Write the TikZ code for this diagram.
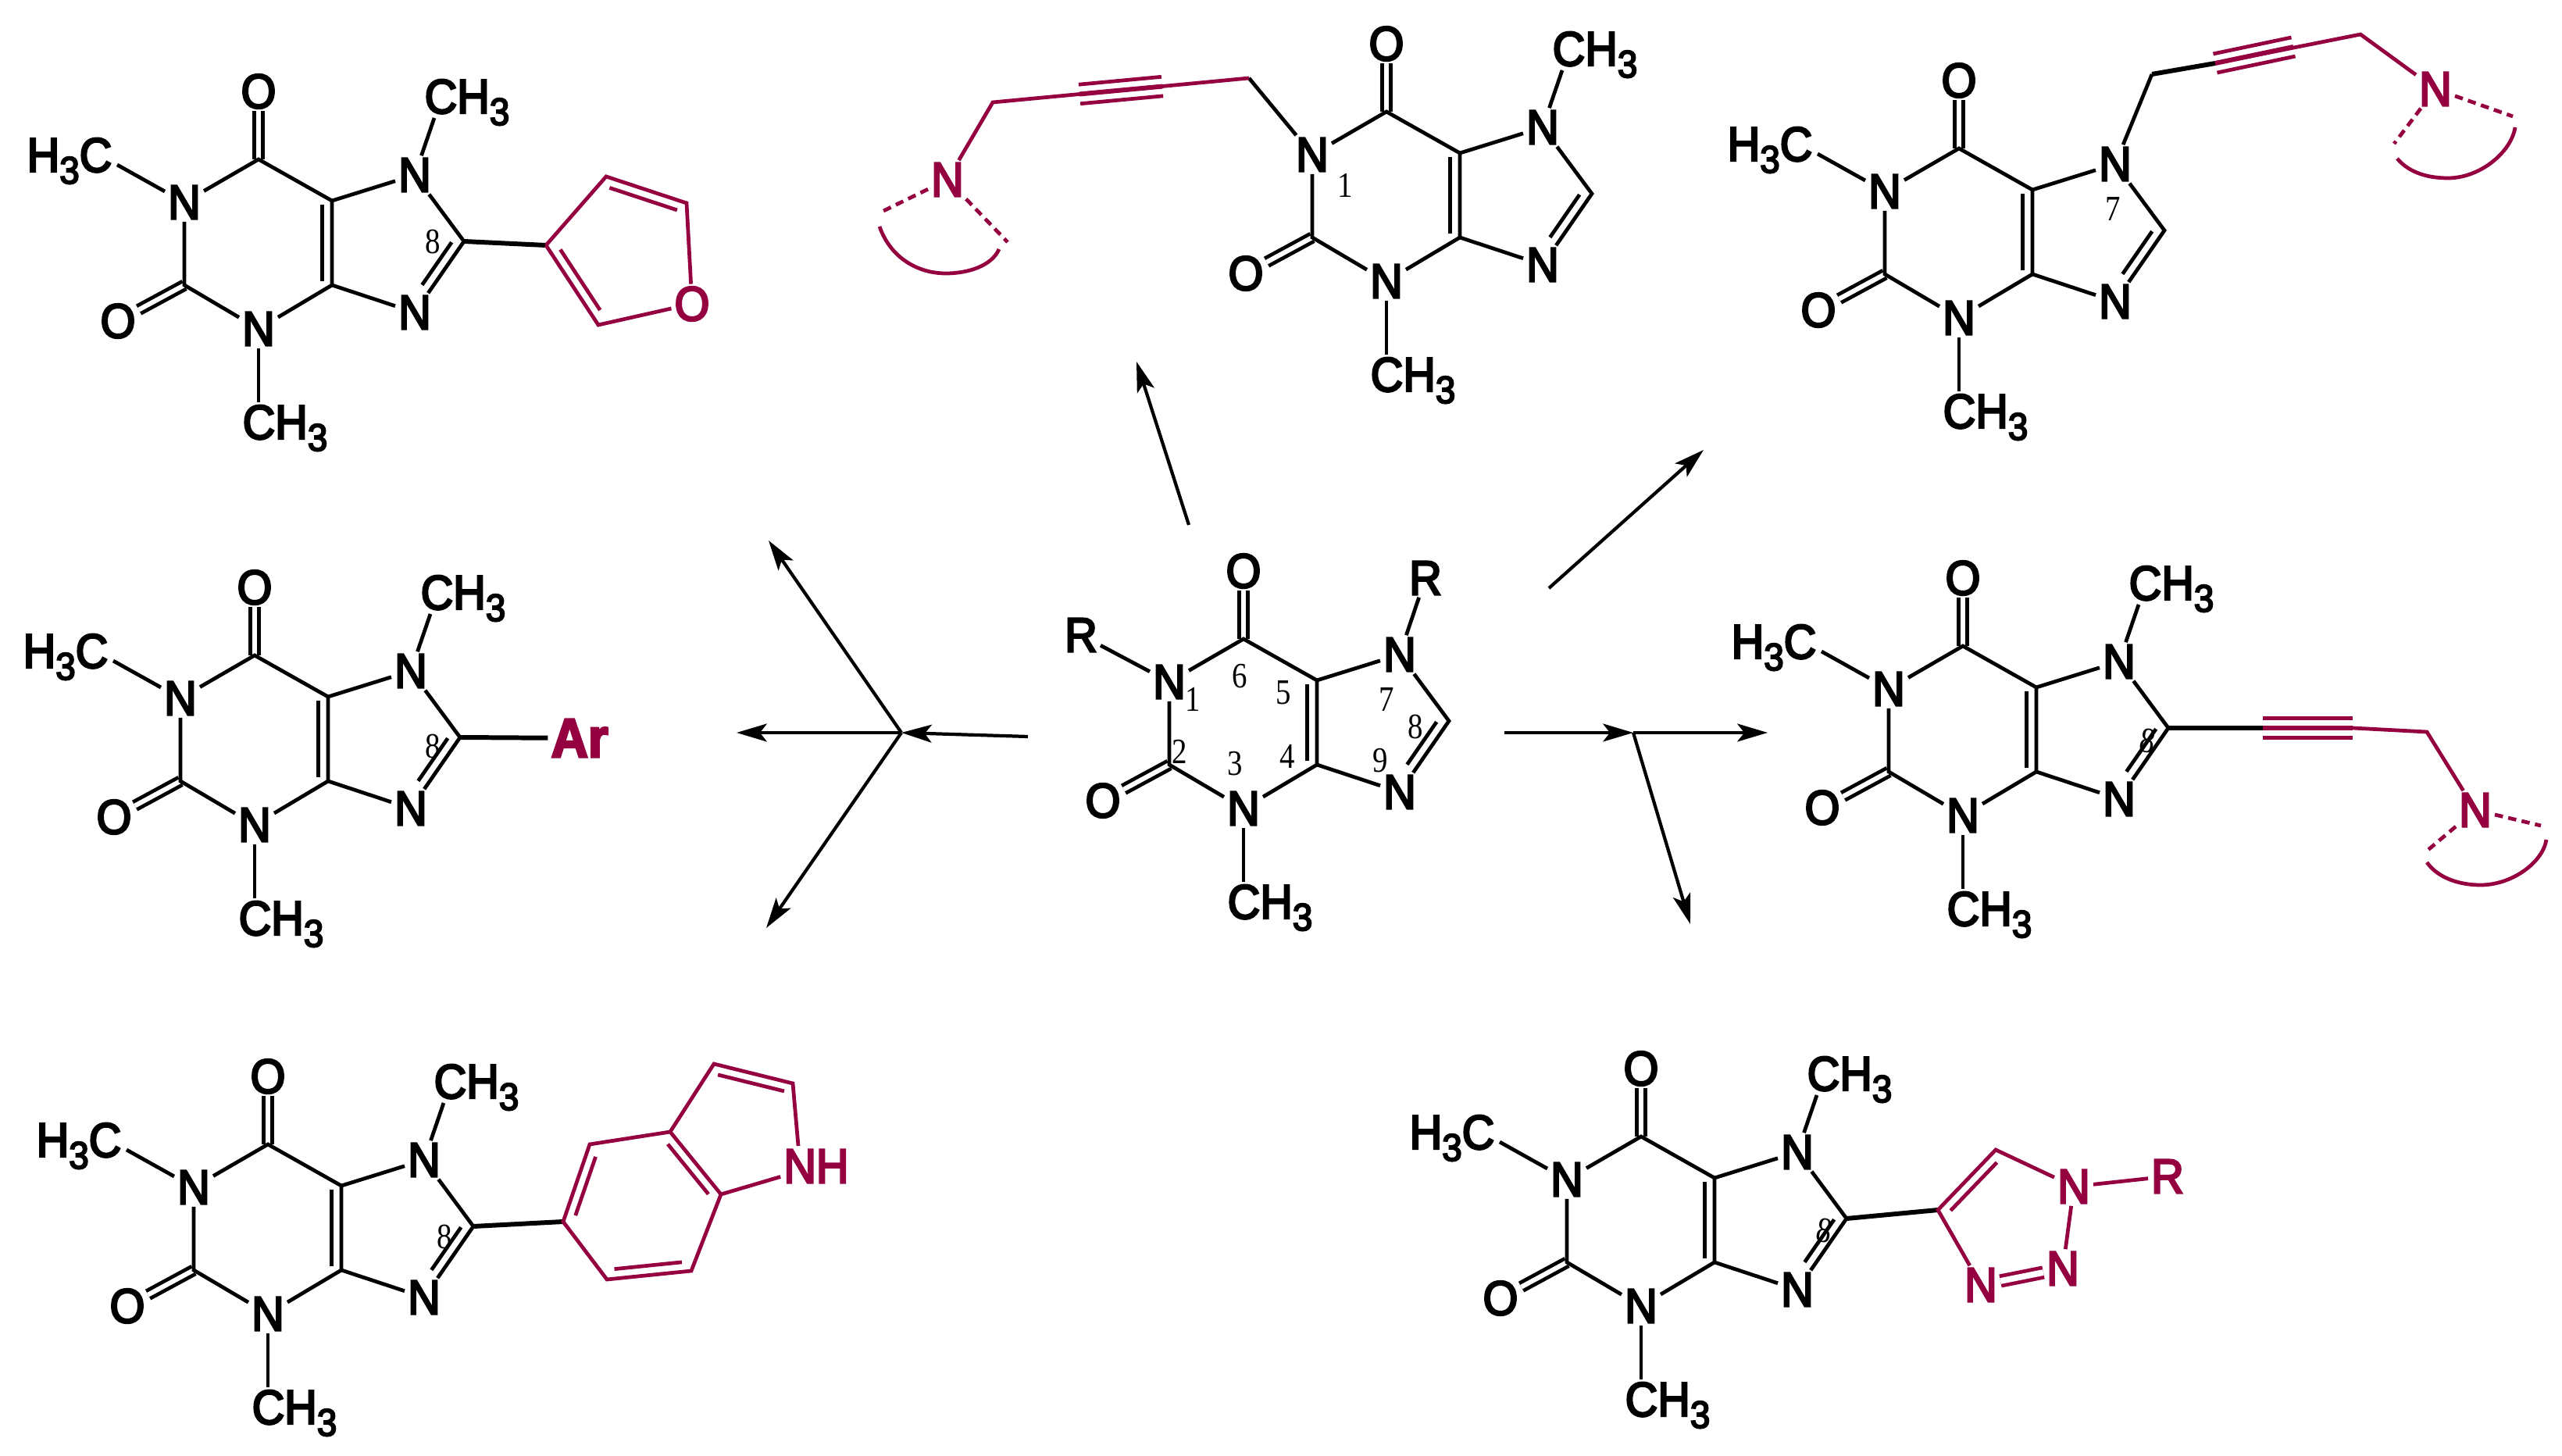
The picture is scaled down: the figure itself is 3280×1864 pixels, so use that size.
\documentclass[tikz,border=0pt]{standalone}
\usepackage{fontspec}
\setmainfont{Liberation Sans}[FakeStretch=0.93,FakeBold=4]
\newfontfamily\numfont{Liberation Serif}[FakeStretch=0.85]
\usetikzlibrary{arrows.meta,calc}
\definecolor{ringred}{HTML}{940040}
\tikzset{
    atom/.style={inner xsep=1.2pt,inner ysep=1pt,outer sep=0pt,font=\fontsize{17.6}{18}\selectfont},
    ratom/.style={atom,text=ringred},
    grp/.style={inner sep=0pt,anchor=base west,font=\fontsize{17.6}{18}\selectfont},
    num/.style={inner sep=0pt,font=\numfont\fontsize{13}{13}\selectfont},
    bond/.style={line width=1.35pt},
    thickbond/.style={line width=1.7pt},
    rbond/.style={bond,color=ringred},
    rdash/.style={rbond,dash pattern=on 3pt off 2pt},
    carbonyl/.style={bond,double,double distance=1.7pt},
    arrowline/.style={line width=1.2pt,-{Stealth[length=11pt,width=6.5pt,inset=2.5pt]}},
}
\newcommand{\subthree}{\raisebox{-4.3pt}{\fontsize{14}{14}\selectfont 3}}
\newcommand{\dblbond}[6][black]{\draw[bond,color=#1] ($(#2)!#4!(#3)!3.5pt!#6:(#3)$) -- ($(#3)!#5!(#2)!3.5pt!-#6:(#2)$);}
\newcommand{\xcore}[3]{
    \begin{scope}[shift={(#2,#3)}]
        \coordinate (#1c6) at (0,0);
        \coordinate (#1c5) at (94,53);
        \coordinate (#1c4) at (94,161);
        \coordinate (#1c2) at (-95,161);
        \coordinate (#1c8) at (263,105);
        \coordinate (#1m3) at (0,311);
        \node[atom] (#1n1) at (-95,55) {N};
        \node[atom] (#1n3) at (0,217) {N};
        \node[atom] (#1n7) at (200,20) {N};
        \node[atom] (#1n9) at (200,196) {N};
        \node[atom] (#1o6) at (0,-87) {O};
        \node[atom] (#1o2) at (-180,207) {O};
    \end{scope}
    \draw[carbonyl] (#1c6) -- (#1o6);
    \draw[carbonyl] (#1c2) -- (#1o2);
    \draw[bond] (#1n1) -- (#1c6) -- (#1c5) -- (#1c4) -- (#1n3) -- (#1c2) -- (#1n1);
    \draw[bond] (#1c5) -- (#1n7) -- (#1c8) -- (#1n9) -- (#1c4);
    \dblbond{#1c4}{#1c5}{.05}{.05}{90}
    \dblbond{#1n9}{#1c8}{.31}{.09}{90}
}
\newcommand{\xmethyls}[3]{
    \begin{scope}[shift={(#2,#3)}]
        \coordinate (#1m3) at (0,311);
        \node[grp] (#1cb) at (-21,358) {CH\subthree};
    \end{scope}
    \draw[bond] (#1n3) -- (#1m3);
}
\newcommand{\xmone}[3]{
    \begin{scope}[shift={(#2,#3)}]
        \coordinate (#1m1) at (-181,7);
        \node[grp] (#1cl) at (-297,16) {H\subthree C};
    \end{scope}
    \draw[bond] (#1n1) -- (#1m1);
}
\newcommand{\xmseven}[3]{
    \begin{scope}[shift={(#2,#3)}]
        \coordinate (#1m7) at (225,-53);
        \node[grp] (#1ct) at (212,-59) {CH\subthree};
    \end{scope}
    \draw[bond] (#1n7) -- (#1m7);
}
\begin{document}
\begin{tikzpicture}[x=0.01cm,y=-0.01cm]
    \useasboundingbox (0,0) rectangle (3280,1864);

    % centre
    \xcore{ce}{1592}{818}
    \xmethyls{ce}{1592}{818}
    \node[atom] (ceRa) at (1384,813) {R};
    \node[atom] (ceRb) at (1825,740) {R};
    \draw[bond] (cen1) -- (ceRa);
    \draw[bond] (cen7) -- (ceRb);
    \node[num] (ce1) at (1527,895) {1};
    \node[num] (ce2) at (1510,962) {2};
    \node[num] (ce3) at (1581,978) {3};
    \node[num] (ce4) at (1648,968) {4};
    \node[num] (ce5) at (1643,887) {5};
    \node[num] (ce6) at (1587,866) {6};
    \node[num] (ce7) at (1775,896) {7};
    \node[num] (ce8) at (1812,931) {8};
    \node[num] (ce9) at (1767,974) {9};

    % furan
    \xcore{fu}{331}{204}
    \xmethyls{fu}{331}{204}
    \xmone{fu}{331}{204}
    \xmseven{fu}{331}{204}
    \node[num] (fu8) at (554,310) {8};
    \node[ratom] (fuO) at (886,389) {O};
    \coordinate (fua) at (699,314);
    \coordinate (fub) at (776,226);
    \coordinate (fuc) at (879,260);
    \coordinate (fud) at (766,416);
    \draw[thickbond] (fuc8) -- (fua);
    \draw[rbond] (fua) -- (fub) -- (fuc) -- (fuO);
    \draw[rbond] (fuO) -- (fud) -- (fua);
    \dblbond[ringred]{fua}{fud}{.12}{.12}{90}
    \dblbond[ringred]{fub}{fuc}{.08}{.08}{-90}

    % alkyne on N1
    \xcore{ai}{1775}{143}
    \xmethyls{ai}{1775}{143}
    \xmseven{ai}{1775}{143}
    \node[num] (ai1) at (1722,237) {1};
    \node[ratom] (aiN) at (1213,230) {N};
    \coordinate (aia) at (1599,100);
    \coordinate (aib) at (1271,131);
    \coordinate (ait) at (1382,120.5);
    \coordinate (aiu) at (1488,110.6);
    \draw[bond] (ain1) -- (aia);
    \draw[rbond] (aia) -- (aib) -- (aiN);
    \draw[thickbond,color=ringred] (ait) -- (aiu);
    \dblbond[ringred]{ait}{aiu}{0}{0}{90}
    \dblbond[ringred]{ait}{aiu}{0}{0}{-90}
    \coordinate (aid) at (1127,272);
    \coordinate (aie) at (1290,310);
    \coordinate (aif) at (1126,290);
    \coordinate (aig) at (1279,319);
    \draw[rdash] (aiN) -- (aid);
    \draw[rdash] (aiN) -- (aie);
    \draw[rbond] (aif) .. controls (1140,330) and (1175,350) .. (1211,350) .. controls (1240,350) and (1270,340) .. (aig);

    % alkyne on N7
    \xcore{ag}{2508}{190}
    \xmethyls{ag}{2508}{190}
    \xmone{ag}{2508}{190}
    \node[num] (ag7) at (2705,268) {7};
    \node[ratom] (agN) at (3118,114) {N};
    \coordinate (aga) at (2755,95);
    \coordinate (agt) at (2836,81);
    \coordinate (agu) at (2936,60);
    \coordinate (agb) at (3022,44);
    \draw[bond] (agn7) -- (aga);
    \draw[thickbond] (aga) -- (agt);
    \draw[rbond] (agt) -- (agb) -- (agN);
    \draw[thickbond,color=ringred] (agt) -- (agu);
    \dblbond[ringred]{agt}{agu}{0}{0}{90}
    \dblbond[ringred]{agt}{agu}{0}{0}{-90}
    \coordinate (agd) at (3217,149);
    \coordinate (age) at (3065,184);
    \coordinate (agf) at (3069,203);
    \coordinate (agg) at (3220,163);
    \draw[rdash] (agN) -- (agd);
    \draw[rdash] (agN) -- (age);
    \draw[rbond] (agf) .. controls (3085,222) and (3110,228) .. (3134,228) .. controls (3175,228) and (3215,195) .. (agg);

    % alkyne on C8
    \xcore{ac}{2513}{827}
    \xmethyls{ac}{2513}{827}
    \xmone{ac}{2513}{827}
    \xmseven{ac}{2513}{827}
    \node[num,rotate=-10] (ac8) at (2750,948) {8};
    \node[ratom] (acN) at (3169,1037) {N};
    \coordinate (act) at (2897,932);
    \coordinate (acu) at (3012,932);
    \coordinate (acb) at (3107,937);
    \draw[thickbond] (acc8) -- (act);
    \draw[thickbond,color=ringred] (act) -- (acu);
    \draw[rbond] (acu) -- (acb) -- (acN);
    \dblbond[ringred]{act}{acu}{0}{0}{90}
    \dblbond[ringred]{act}{acu}{0}{0}{-90}
    \coordinate (acd) at (3253,1057);
    \coordinate (ace) at (3105,1091);
    \coordinate (acf) at (3107,1104);
    \coordinate (acg) at (3260,1075);
    \draw[rdash] (acN) -- (acd);
    \draw[rdash] (acN) -- (ace);
    \draw[rbond] (acf) .. controls (3122,1125) and (3150,1133) .. (3176,1133) .. controls (3215,1133) and (3255,1105) .. (acg);

    % aryl
    \xcore{ar}{326}{839}
    \xmethyls{ar}{326}{839}
    \xmone{ar}{326}{839}
    \xmseven{ar}{326}{839}
    \node[num] (ar8) at (554,956) {8};
    \node[ratom,font=\fontsize{20}{20}\selectfont\bfseries] (arAr) at (742,945) {Ar};
    \draw[thickbond] (arc8) -- (arAr);

    % indole
    \xcore{in}{343}{1465}
    \xmethyls{in}{343}{1465}
    \xmone{in}{343}{1465}
    \xmseven{in}{343}{1465}
    \node[num] (in8) at (569,1584) {8};
    \node[ratom] (inNH) at (1045,1493) {NH};
    \coordinate (ina) at (721,1564);
    \coordinate (inb) at (755,1465);
    \coordinate (inc) at (858,1449);
    \coordinate (ind) at (923,1529);
    \coordinate (ine) at (885,1627);
    \coordinate (inf) at (777,1638);
    \coordinate (ing) at (914,1362);
    \coordinate (inh) at (1015,1387);
    \coordinate (inx) at (1022,1467);
    \draw[thickbond] (inc8) -- (ina);
    \draw[rbond] (ina) -- (inb) -- (inc) -- (ind) -- (ine) -- (inf) -- cycle;
    \draw[rbond] (inc) -- (ing) -- (inh) -- (inx);
    \draw[rbond] (ind) -- (inNH);
    \dblbond[ringred]{ina}{inb}{.12}{.12}{-90}
    \dblbond[ringred]{inc}{ind}{.1}{.1}{-90}
    \dblbond[ringred]{ine}{inf}{.1}{.1}{-90}
    \dblbond[ringred]{ing}{inh}{.08}{.08}{-90}

    % triazole
    \xcore{tz}{2101}{1455}
    \xmethyls{tz}{2101}{1455}
    \xmone{tz}{2101}{1455}
    \xmseven{tz}{2101}{1455}
    \node[num,rotate=-10] (tz8) at (2336,1575) {8};
    \node[ratom] (tzNa) at (2655,1519) {N};
    \node[ratom] (tzNb) at (2641,1624) {N};
    \node[ratom] (tzNc) at (2536,1645) {N};
    \node[ratom] (tzR) at (2775,1506) {R};
    \coordinate (tza) at (2481,1549);
    \coordinate (tzb) at (2555,1472);
    \draw[thickbond] (tzc8) -- (tza);
    \draw[rbond] (tzNc) -- (tza) -- (tzb) -- (tzNa) -- (tzNb);
    \draw[rbond] (tzNa) -- (tzR);
    \draw[rbond,double,double distance=2.2pt] (tzNb) -- (tzNc);
    \dblbond[ringred]{tza}{tzb}{.1}{.1}{-90}

    % arrows
    \coordinate (hubl) at (1154,938);
    \coordinate (hubr) at (2091,938);
    \coordinate (la) at (1316,943);
    \coordinate (lb) at (984,692);
    \coordinate (lc) at (943,938);
    \coordinate (ld) at (981,1188);
    \coordinate (ra) at (1926,938);
    \coordinate (rb) at (2263,938);
    \coordinate (rc) at (2164,1183);
    \coordinate (ua) at (1522,672);
    \coordinate (ub) at (1455,463);
    \coordinate (va) at (1983,753);
    \coordinate (vb) at (2181,576);
    \draw[arrowline] (la) -- (hubl);
    \draw[arrowline] (hubl) -- (lb);
    \draw[arrowline] (hubl) -- (lc);
    \draw[arrowline] (hubl) -- (ld);
    \draw[arrowline] (ra) -- (hubr);
    \draw[arrowline] (hubr) -- (rb);
    \draw[arrowline] (hubr) -- (rc);
    \draw[arrowline] (ua) -- (ub);
    \draw[arrowline] (va) -- (vb);
\end{tikzpicture}
\end{document}
